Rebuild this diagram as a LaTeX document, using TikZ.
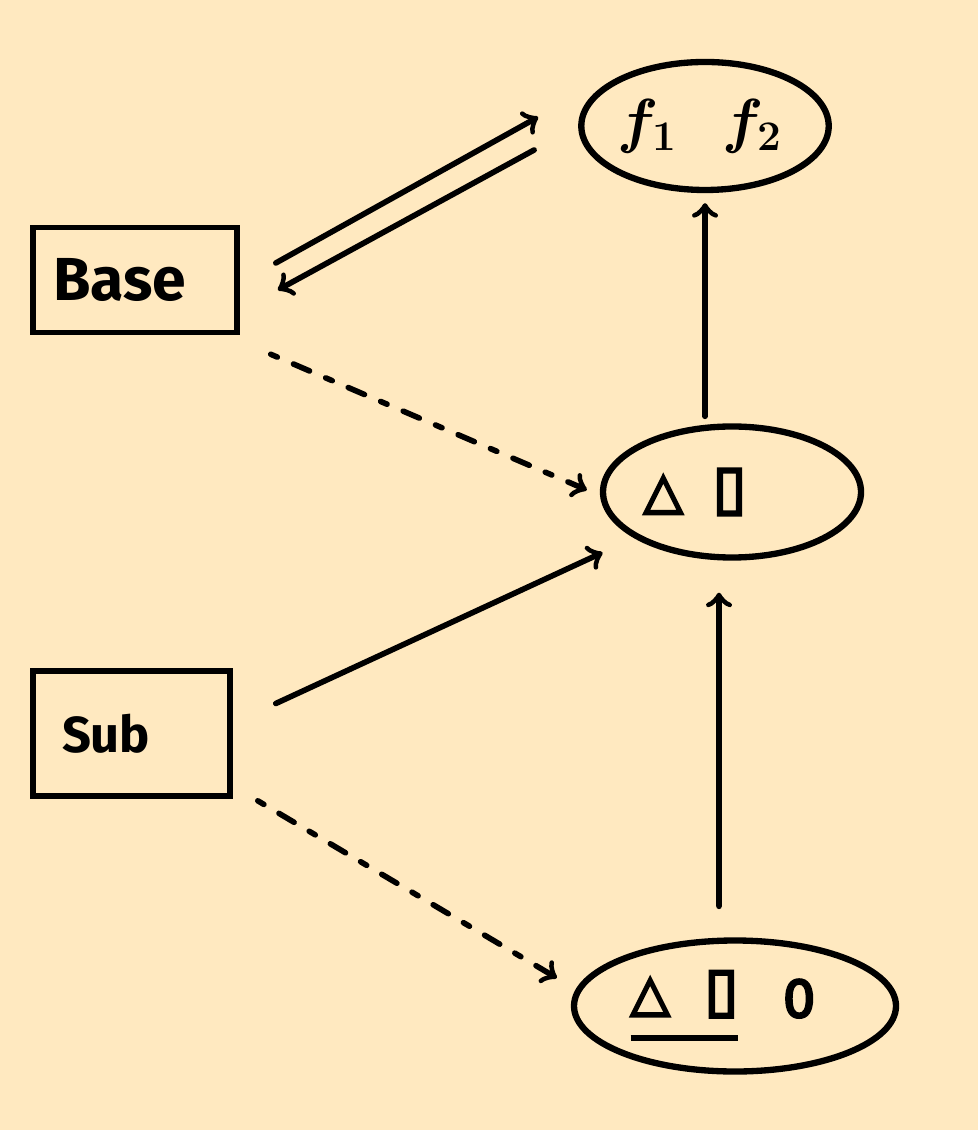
\documentclass[tikz,border=0pt]{standalone}
\usepackage{bm}
\usepackage{fontspec}
\setmainfont{Fira Sans}
\newfontfamily\symfont[FakeBold=5]{DejaVu Sans}
\usetikzlibrary{shapes.geometric}

\definecolor{paper}{RGB}{255,233,192}

% thick underline for the shared part
\newcommand{\thickul}[1]{\vtop{\hbox{#1}\kern5pt\hrule height 1.7pt}}

\begin{document}
\begin{tikzpicture}[
	classbox/.style={rectangle, draw=black, ultra thick, inner ysep=0pt, align=left},
	setnode/.style={ellipse, draw=black, line width=1.8pt, inner sep=0pt},
	link/.style={->, ultra thick, line cap=round},
	weaklink/.style={->, ultra thick, line cap=round, dash pattern=on 2pt off 5pt on 5pt off 5pt},
	]
	%background
	\fill[paper] (0,0) rectangle (9.78,-11.30);
	\useasboundingbox (0,0) rectangle (9.78,-11.30);
	%Nodes
	\node[classbox, inner xsep=0.2cm, text width=1.64cm, minimum height=1.05cm] (base) at (1.35,-2.80) {\LARGE\bfseries Base};
	%
	\node[classbox, inner xsep=0.29cm, text width=1.39cm, minimum height=1.25cm] (sub) at (1.315,-7.335) {\Large\bfseries Sub};
	%
	\node[setnode, minimum width=2.4cm, minimum height=1.28cm] (funcs) at (7.05,-1.26) {\LARGE$\bm{f_1}$\hspace{0.45cm}$\bm{f_2}$\kern0.1cm};
	%
	\node[setnode, minimum width=2.58cm, minimum height=1.31cm] (shapes) at (7.32,-4.92) {\Large\symfont △\hspace{0.3cm}{\LARGE▯}\kern0.74cm};
	%
	\node[setnode, minimum width=3.22cm, minimum height=1.31cm] (allshapes) at (7.35,-10.06) {\Large\symfont \thickul{△\hspace{0.35cm}{\LARGE▯}}\hspace{0.45cm}\raisebox{-2pt}{0}\kern0.24cm};
	
	%Connectors
	\draw [link] ([xshift=0.36cm,yshift=0.17cm]base.east) -- ([xshift=-0.40cm,yshift=0.09cm]funcs.west);
	\draw [link] ([xshift=-0.44cm,yshift=-0.24cm]funcs.west) -- ([xshift=0.38cm,yshift=-0.10cm]base.east);
	\draw [weaklink] ([xshift=0.31cm,yshift=-0.19cm]base.south east) -- ([xshift=-0.13cm,yshift=0.02cm]shapes.west);
	%
	\draw [link] ([xshift=0.43cm,yshift=0.30cm]sub.east) -- ([xshift=-0.36cm,yshift=-0.12cm]shapes.south west);
	\draw [weaklink] ([xshift=0.25cm,yshift=-0.02cm]sub.south east) -- ([xshift=-0.14cm,yshift=0.28cm]allshapes.west);
	%
	\draw [link] ([xshift=-0.27cm,yshift=0.07cm]shapes.north) -- ([yshift=-0.10cm]funcs.south);
	\draw [link] ([xshift=-0.16cm,yshift=0.31cm]allshapes.north) -- ([xshift=-0.13cm,yshift=-0.32cm]shapes.south);
\end{tikzpicture}
\end{document}
